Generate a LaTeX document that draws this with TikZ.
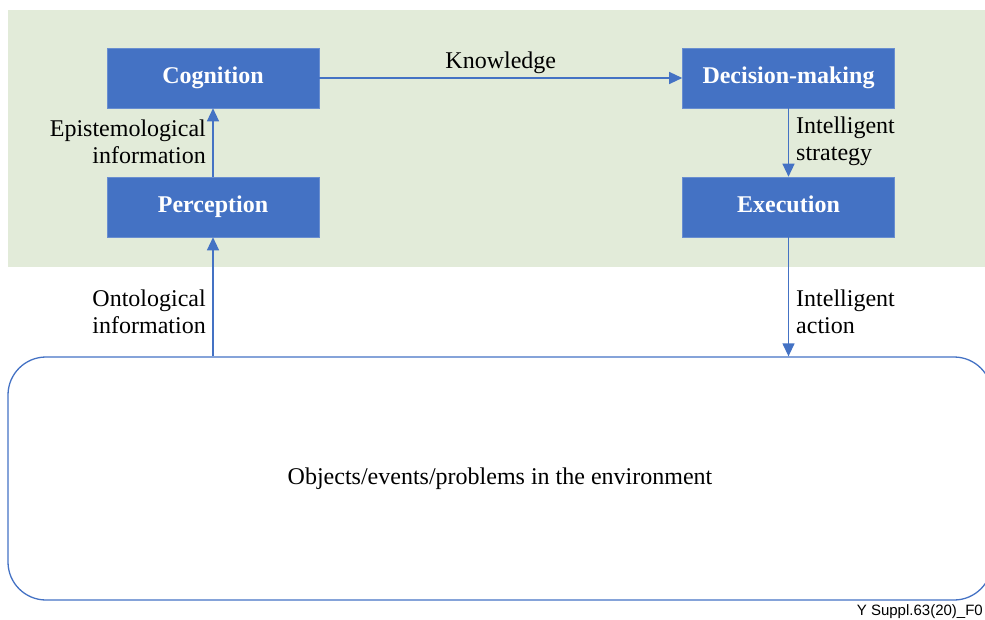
\documentclass[tikz,border=0pt]{standalone}
\usepackage{fontspec}
\setmainfont{Liberation Serif}
\newfontfamily\footfont{Liberation Sans}
\usetikzlibrary{arrows.meta}
\definecolor{boxblue}{HTML}{4472C4}
\definecolor{bggreen}{HTML}{E2EBD9}
\begin{document}
\begin{tikzpicture}[x=1pt,y=-1pt,
  procbox/.style={fill=boxblue,draw=boxblue!80!white,line width=0.6pt,minimum width=212pt,minimum height=60pt,inner sep=0pt,
    text height=15pt,text depth=3pt,
    text=white,font=\fontsize{24}{27}\selectfont\bfseries},
  lbl/.style={inner sep=0pt,font=\fontsize{24}{27}\selectfont,text=black},
  conn/.style={draw=boxblue,line width=1.3pt,-{Triangle[length=13pt,width=12pt]}}]
\useasboundingbox (0,0) rectangle (985,620);
\fill[bggreen] (8,10) rectangle (985,267);
\node[procbox] (cog) at (213,78) {Cognition};
\node[procbox] (perc) at (213,207) {Perception};
\node[procbox] (dec) at (788.5,78) {Decision-making};
\node[procbox] (exe) at (788.5,207) {Execution};
\node[draw=boxblue,line width=1.3pt,rounded corners=38pt,minimum width=984pt,minimum height=243pt,
  inner sep=0pt] (env) at (500,478.5) {};
\node[lbl] (envtext) at (500,479) {Objects/events/problems in the environment};
\draw[conn] (cog) -- node[lbl,above=4pt] (know) {Knowledge} (dec);
\draw[conn] (perc) -- (cog);
\draw[conn] (dec) -- (exe);
\draw[conn] (perc.south |- env.north) -- (perc.south);
\draw[conn] (exe.south) -- (exe.south |- env.north);
\node[lbl,anchor=east,align=right] (epi) at (206,141.5) {Epistemological\\information};
\node[lbl,anchor=west,align=left] (strat) at (796,141) {Intelligent\\strategy};
\node[lbl,anchor=east,align=right] (onto) at (206,312) {Ontological\\information};
\node[lbl,anchor=west,align=left] (act) at (796,312) {Intelligent\\action};
\node[anchor=base east,inner sep=0pt,font=\footfont\fontsize{15}{17}\selectfont] (foot) at (983,615) {Y Suppl.63(20)\_F0};
\end{tikzpicture}
\end{document}
